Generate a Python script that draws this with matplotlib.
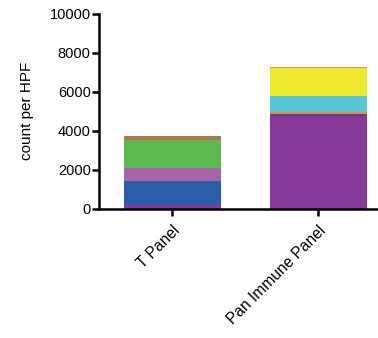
import matplotlib.pyplot as plt

plt.rcParams['font.family'] = ['Liberation Sans', 'DejaVu Sans']

paneles = ['T Panel', 'Pan Immune Panel']

# segmentos apilados de abajo hacia arriba (cuenta por HPF)
t_valores = [200, 1250, 670, 1420, 200]
t_colores = ['#87399A', '#2C5DA8', '#A565A8', '#5BB94D', '#A57A4C']

pan_valores = [4785, 75, 100, 835, 1420, 50]
pan_colores = ['#87399A', '#5A3FA0', '#F08A2C', '#59C6D6', '#EEE82E', '#F0836E']

yticks = [0, 2000, 4000, 6000, 8000, 10000]


def grafico():
    fig = plt.figure(figsize=(3.78, 3.38), dpi=100)
    ax = fig.add_axes([0.262, 0.382, 0.735, 0.577])

    for i, (valores, colores) in enumerate([(t_valores, t_colores),
                                            (pan_valores, pan_colores)]):
        base = 0
        for v, c in zip(valores, colores):
            ax.bar(i, v, bottom=base, width=0.665, color=c, linewidth=0)
            base += v

    ax.set_xlim(-0.5, 1.4)
    ax.set_ylim(0, 10000)
    ax.set_yticks(yticks)
    ax.set_yticklabels([str(y) for y in yticks], fontsize=10.5)
    ax.set_xticks(range(len(paneles)))
    ax.set_xticklabels(paneles, rotation=45, ha='right',
                       rotation_mode='anchor', fontsize=11.2)
    ax.set_ylabel('count per HPF', fontsize=11, labelpad=11)

    for s in ['top', 'right']:
        ax.spines[s].set_visible(False)
    for s in ['left', 'bottom']:
        ax.spines[s].set_linewidth(1.8)
    ax.tick_params(width=1.8, length=5)
    ax.tick_params(axis='y', pad=1)
    ax.tick_params(axis='x', pad=5)

    fig.savefig('out.png', dpi=100)


if __name__ == "__main__":
    grafico()
